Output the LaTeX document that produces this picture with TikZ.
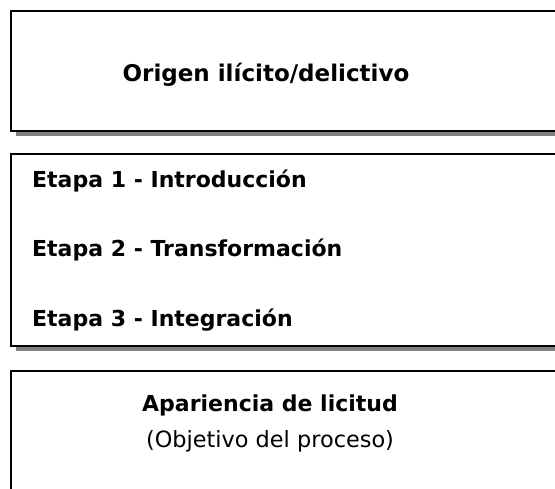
\documentclass[tikz,border=0pt]{standalone}
\usepackage{fontspec}
\setmainfont{DejaVu Sans}
\usetikzlibrary{shadows}

\tikzset{
  caja/.style={draw, line width=2pt, fill=white, inner sep=0pt,
    drop shadow={shadow xshift=5pt, shadow yshift=-5pt, fill=gray, opacity=1}},
  titulo/.style={anchor=base, font=\bfseries\fontsize{22}{26}\selectfont, inner sep=0pt},
  etapa/.style={anchor=base west, font=\bfseries\fontsize{22}{26}\selectfont, inner sep=0pt},
  nota/.style={anchor=base, font=\fontsize{22.4}{26}\selectfont, inner sep=0pt}
}

\begin{document}
\begin{tikzpicture}[x=1pt,y=1pt]
			\useasboundingbox (0,0) rectangle (555,489);
			% cajas
			\node[caja, minimum width=589pt, minimum height=120pt] (origen) at (305.5,418) {};
			\node[caja, minimum width=589pt, minimum height=192pt] (etapas) at (305.5,239) {};
			\node[caja, minimum width=589pt, minimum height=169pt] (licitud) at (305.5,33.5) {};
			% textos
			\node[titulo, font=\bfseries\fontsize{23}{27}\selectfont] (torigen) at (266,407) {Origen ilícito/delictivo};
			\node[etapa] (e1) at (32,301) {Etapa 1 - Introducción};
			\node[etapa] (e2) at (32,232) {Etapa 2 - Transformación};
			\node[etapa] (e3) at (32,162) {Etapa 3 - Integración};
			\node[titulo] (tlicitud) at (270,77) {Apariencia de licitud};
			\node[nota] (objetivo) at (270,41) {(Objetivo del proceso)};
		\end{tikzpicture}
\end{document}
